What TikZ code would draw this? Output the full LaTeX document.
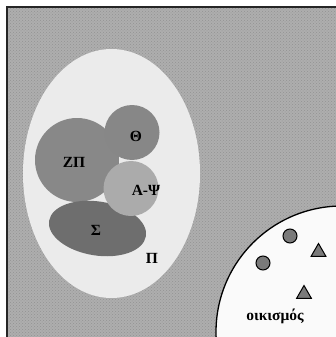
\documentclass[tikz,border=0pt]{standalone}
\usepackage{fontspec}
\setmainfont{Liberation Serif}
\usetikzlibrary{patterns,shapes.geometric}
\definecolor{bgfill}{HTML}{AEAEAE}
\definecolor{ovalfill}{HTML}{EBEBEB}
\definecolor{zpfill}{HTML}{888888}
\definecolor{thfill}{HTML}{878787}
\definecolor{apfill}{HTML}{ABABAB}
\definecolor{sfill}{HTML}{6E6E6E}
\definecolor{markfill}{HTML}{7A7A7A}
\tikzset{
  lbl/.style={font=\bfseries\fontsize{15.5}{18}\selectfont, inner sep=0pt},
  dotmark/.style={circle, draw=black, line width=1pt, fill=markfill, minimum size=14pt, inner sep=0pt},
  trimark/.style={regular polygon, regular polygon sides=3, draw=black, line width=1pt, fill=markfill, minimum size=17pt, inner sep=0pt},
}
\begin{document}
\begin{tikzpicture}[x=1pt,y=-1pt]
\useasboundingbox (0,0) rectangle (336,337);
\clip (0,0) rectangle (336,337);
% background field
\fill[white] (0,0) rectangle (336,337);
\fill[bgfill] (7,7) rectangle (340,340);
\fill[pattern=crosshatch dots, pattern color=gray!85] (7,7) rectangle (340,340);
\draw[line width=2pt, draw=black!85] (7,345) -- (7,7) -- (345,7);
% large oval Pi
\fill[ovalfill] (111.5,173.5) ellipse [x radius=88.5, y radius=124.5];
% shapes
\fill[zpfill] (77,160) circle [radius=42];
\fill[thfill] (132,132.5) circle [radius=27.5];
\fill[sfill, rotate around={-9:(97.5,228.5)}] (97.5,228.5) ellipse [x radius=49, y radius=27];
\fill[apfill] (131,188.5) circle [radius=27.5];
% labels
\node[lbl] (zp) at (74,162) {ΖΠ};
\node[lbl] (th) at (136,136) {Θ};
\node[lbl] (ap) at (146,190) {Α-Ψ};
\node[lbl] (sg) at (96,230) {Σ};
\node[lbl] (pi) at (152,258) {Π};
% settlement
\filldraw[fill=white!98!black, draw=black, line width=1.3pt] (342,332) circle [radius=126];
\node[dotmark] (c1) at (290,236) {};
\node[dotmark] (c2) at (263,263) {};
\node[trimark] (t1) at (318.5,252) {};
\node[trimark] (t2) at (304,294) {};
\node[lbl] (oik) at (275,316) {οικισμός};
\end{tikzpicture}
\end{document}
